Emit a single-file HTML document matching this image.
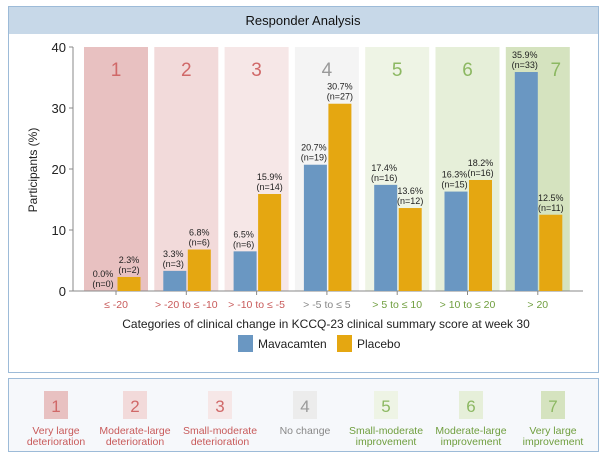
<!DOCTYPE html>
<html><head><meta charset="utf-8"><style>
body{margin:0;width:607px;height:458px;background:#fff;font-family:"Liberation Sans",sans-serif;overflow:hidden}
svg text{font-family:"Liberation Sans",sans-serif}
</style></head><body>
<svg id="c" width="607" height="458" xmlns="http://www.w3.org/2000/svg">
<rect x="8.5" y="6.5" width="590" height="366" fill="#fff" stroke="#9dbbd8"/>
<rect x="9" y="7" width="589" height="27" fill="#c7d8e8"/>
<text x="303" y="25" text-anchor="middle" font-size="13" fill="#111">Responder Analysis</text>
<g id="plot"></g>
<text transform="translate(37,170) rotate(-90)" text-anchor="middle" font-size="12" fill="#222">Participants (%)</text>
<text x="326" y="328" text-anchor="middle" font-size="12" fill="#222">Categories of clinical change in KCCQ-23 clinical summary score at week 30</text>
<g><rect x="238" y="335" width="15" height="17" fill="#6a97c2"/><text x="258" y="348" font-size="12" fill="#222">Mavacamten</text></g>
<g><rect x="337" y="335" width="15" height="17" fill="#e5a711"/><text x="357" y="348" font-size="12" fill="#222">Placebo</text></g>
<rect x="8.5" y="378.5" width="590" height="73" fill="#f6f8fb" stroke="#9dbbd8"/>
<g id="key"></g>
</svg>
<script>
const categories=["≤ -20","> -20 to ≤ -10","> -10 to ≤ -5","> -5 to ≤ 5","> 5 to ≤ 10","> 10 to ≤ 20","> 20"];
const mavacamten=[0,3.3,6.5,20.7,17.4,16.3,35.9];
const mavaN=[0,3,6,19,16,15,33];
const placebo=[2.3,6.8,15.9,30.7,13.6,18.2,12.5];
const placeboN=[2,6,14,27,12,16,11];
const yTicks=[0,10,20,30,40];
const keyLabels=[["Very large","deterioration"],["Moderate-large","deterioration"],["Small-moderate","deterioration"],["No change",""],["Small-moderate","improvement"],["Moderate-large","improvement"],["Very large","improvement"]];
const bandFill=["#e8c1c1","#f2dada","#f6e7e7","#f4f4f4","#eef4e5","#e6efd9","#d5e3bf"];
const numCol=["#d06868","#d06868","#d06868","#9a9a9a","#8cb862","#8cb862","#8cb862"];
const labCol=["#c85a5a","#c85a5a","#c85a5a","#888","#6f9e3e","#6f9e3e","#6f9e3e"];
const NS="http://www.w3.org/2000/svg";
const y0=291,yTop=47,yMax=40;
const y=v=>y0-(v/yMax)*(y0-yTop);
const x=i=>116+i*70.3;
const g=document.getElementById('plot');
function el(t,a,p){const e=document.createElementNS(NS,t);for(const k in a)e.setAttribute(k,a[k]);(p||g).appendChild(e);return e;}
categories.forEach((c,i)=>{
 const b=el('rect',{x:x(i)-32,y:yTop,width:64,height:y0-yTop,fill:bandFill[i]});
 
 
 const n=el('text',{x:x(i)+(i===6?18:0),y:76,'text-anchor':'middle','font-size':19,fill:numCol[i]});n.textContent=i+1;
 
 
});
el('line',{x1:73,y1:y0,x2:583,y2:y0,stroke:'#888'});
el('line',{x1:73,y1:yTop,x2:73,y2:y0,stroke:'#888'});
yTicks.forEach(t=>{
 el('line',{x1:69,y1:y(t),x2:73,y2:y(t),stroke:'#888'});
 const tx=el('text',{x:66,y:y(t)+5,'text-anchor':'end','font-size':13,fill:'#222'});tx.textContent=t;
 
 
});
function lab(cx,top,v,n){
 const a=el('text',{x:cx,y:top-14,'text-anchor':'middle','font-size':9,fill:'#222'});a.textContent=v.toFixed(1)+'%';
 
 
 const b=el('text',{x:cx,y:top-4,'text-anchor':'middle','font-size':9,fill:'#222'});b.textContent='(n='+n+')';
 
 
}
categories.forEach((c,i)=>{
 const cx=x(i);
 const m=el('rect',{x:cx-23,y:y(mavacamten[i]),width:23,height:y0-y(mavacamten[i]),fill:'#6a97c2'});
 
 
 const p=el('rect',{x:cx+1.5,y:y(placebo[i]),width:23,height:y0-y(placebo[i]),fill:'#e5a711'});
 
 
 lab(cx-13,y(mavacamten[i]),mavacamten[i],mavaN[i]);
 lab(cx+13,y(placebo[i]),placebo[i],placeboN[i]);
 el('line',{x1:cx,y1:y0,x2:cx,y2:y0+4,stroke:'#888'});
 const t=el('text',{x:cx,y:308,'text-anchor':'middle','font-size':10.5,fill:labCol[i]});t.textContent=c;
 
 
});
const k=document.getElementById('key');
const kx=[56,135,220,305,386,471,553];
keyLabels.forEach((l,i)=>{
 const r=el('rect',{x:kx[i]-12,y:391,width:24,height:28,fill:bandFill[i]==='#f4f4f4'?'#ececec':bandFill[i]},k);
 
 
 const n=el('text',{x:kx[i],y:412,'text-anchor':'middle','font-size':17,fill:numCol[i]},k);n.textContent=i+1;
 
 
 l.forEach((s,j)=>{const t=el('text',{x:kx[i],y:434+j*11,'text-anchor':'middle','font-size':10.5,fill:labCol[i]},k);t.textContent=s;
 
 });
});
</script>
</body></html>
